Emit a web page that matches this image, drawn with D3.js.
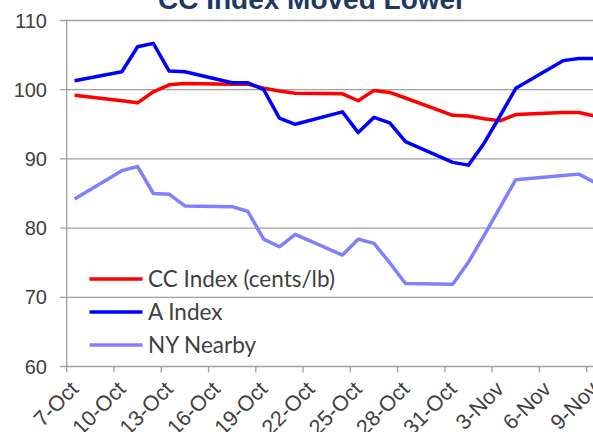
<!DOCTYPE html>
<html><head><meta charset="utf-8">
<script src="https://cdn.jsdelivr.net/npm/d3@7"></script>
<style>html,body{margin:0;padding:0;background:#fff;overflow:hidden}</style>
</head><body>
<script>
const dates = ["2016-10-07","2016-10-10","2016-10-11","2016-10-12","2016-10-13","2016-10-14",
  "2016-10-17","2016-10-18","2016-10-19","2016-10-20","2016-10-21",
  "2016-10-24","2016-10-25","2016-10-26","2016-10-27","2016-10-28",
  "2016-10-31","2016-11-01","2016-11-02","2016-11-03","2016-11-04",
  "2016-11-07","2016-11-08","2016-11-09"];
const ccIndex = [99.2,98.4,98.1,99.7,100.7,100.9,100.8,100.8,100.2,99.8,99.5,99.4,98.4,99.9,99.6,98.8,96.3,96.2,95.8,95.5,96.4,96.7,96.7,96.2];
const aIndex = [101.3,102.6,106.2,106.7,102.7,102.6,101.0,101.0,100.0,95.9,95.0,96.8,93.8,96.0,95.2,92.5,89.5,89.1,92.3,96.2,100.2,104.2,104.5,104.5];
const nyNearby = [84.2,88.3,88.9,85.0,84.9,83.2,83.1,82.4,78.4,77.3,79.1,76.1,78.4,77.8,75.0,72.0,71.9,75.1,79.0,83.0,87.0,87.6,87.8,86.6];
const seriesNames = ["CC Index (cents/lb)","A Index","NY Nearby"];
const seriesColors = ["#ff0000","#0000ff","#8080ff"];
const yTicks = [60,70,80,90,100,110];
const xTickDates = ["2016-10-07","2016-10-10","2016-10-13","2016-10-16","2016-10-19","2016-10-22","2016-10-25","2016-10-28","2016-10-31","2016-11-03","2016-11-06","2016-11-09"];
const title = "CC Index Moved Lower";

const W = 593, H = 432;
const svg = d3.select("body").append("svg").attr("width", W).attr("height", H);
const parse = d3.utcParse("%Y-%m-%d");
const x = d3.scaleUtc().domain([parse("2016-10-07"), parse("2016-11-09")]).range([66.7, 586.7]);
const y = d3.scaleLinear().domain([60,110]).range([366.5, 20.5]);
const xEnd = x(parse("2016-11-10"));
const half = 12*3600*1000;

// title
svg.append("text").attr("x", 312).attr("y", 9).attr("text-anchor","middle")
  .attr("font-family","Liberation Sans, Arial, sans-serif").attr("font-weight","bold")
  .attr("font-size", 28).attr("fill","#1f3864").text(title);

// gridlines
svg.append("g").selectAll("line").data(yTicks).join("line")
  .attr("x1", 60).attr("x2", xEnd).attr("y1", d=>y(d)).attr("y2", d=>y(d))
  .attr("stroke","#a0a0a0").attr("stroke-width",1.3);
// y axis line
svg.append("line").attr("x1",66.7).attr("x2",66.7).attr("y1",y(110)).attr("y2",y(60))
  .attr("stroke","#a0a0a0").attr("stroke-width",1.3);
// y labels
svg.append("g").selectAll("text").data(yTicks).join("text")
  .attr("x", 47).attr("y", d=>y(d)).attr("dy","0.35em").attr("text-anchor","end")
  .attr("font-family","Liberation Sans, Arial, sans-serif").attr("font-size",20).attr("fill","#404040")
  .text(d=>d);
// x ticks
const xt = xTickDates.map(parse);
svg.append("g").selectAll("line").data(xt).join("line")
  .attr("x1", d=>x(d)).attr("x2", d=>x(d)).attr("y1", y(60)).attr("y2", y(60)+6)
  .attr("stroke","#a0a0a0").attr("stroke-width",1.3);
const fmt = d3.utcFormat("%-d-%b");
svg.append("g").selectAll("text").data(xt).join("text")
  .attr("transform", d=>`translate(${x(d)+13},${y(60)+24}) rotate(-45)`)
  .attr("text-anchor","end")
  .attr("font-family","Liberation Sans, Arial, sans-serif").attr("font-size",21.5).attr("fill","#404040")
  .text(d=>fmt(d));

// lines
const all = [ccIndex, aIndex, nyNearby];
const line = d3.line().x(d=>x(new Date(d.date.getTime()+half))).y(d=>y(d.v));
const order = [2,0,1];
order.forEach(i=>{
  const data = dates.map((dd,k)=>({date: parse(dd), v: all[i][k]}));
  svg.append("path").datum(data).attr("d", line).attr("fill","none")
    .attr("stroke", seriesColors[i]).attr("stroke-width",3.5).attr("stroke-linejoin","round");
});

// legend
const lg = svg.append("g");
seriesNames.forEach((n,i)=>{
  const yy = 279 + i*33;
  lg.append("line").attr("x1",89.5).attr("x2",142.5).attr("y1",yy).attr("y2",yy)
    .attr("stroke",seriesColors[i]).attr("stroke-width",3.5);
  lg.append("text").attr("x",148).attr("y",yy).attr("dy","0.35em")
    .attr("font-family","Lato, sans-serif").attr("font-size",22.5).attr("fill","#404040").text(n);
});
</script>
</body></html>
